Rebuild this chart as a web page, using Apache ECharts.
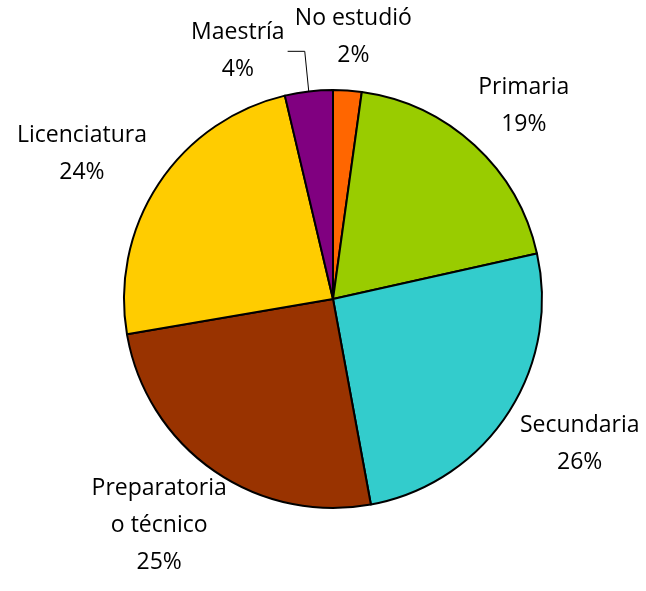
<!DOCTYPE html>
<html><head><meta charset="utf-8">
<script src="https://cdn.jsdelivr.net/npm/echarts@6/dist/echarts.min.js"></script>
<style>html,body{margin:0;padding:0;background:#fff}#c{width:646px;height:591px}</style>
</head><body><div id="c"></div>
<script>
// ---- data ----
const categories = ['No estudió', 'Primaria', 'Secundaria', 'Preparatoria\no técnico', 'Licenciatura', 'Maestría'];
const values = [2.2, 19.3, 25.6, 25.2, 24.0, 3.7];
const colors = ['#FF6600', '#99CC00', '#33CCCC', '#993300', '#FFCC00', '#800080'];

// ---- layout ----
const CX = 333, CY = 299, R = 209, GAP = 27;
const total = values.reduce((a, b) => a + b, 0);
const mids = []; let acc = 0;
values.forEach(v => { mids.push((acc + v / 2) / total * 360); acc += v; });
const placed = {};
function boxAt(deg, w, h) {
  const t = deg * Math.PI / 180, ux = Math.sin(t), uy = -Math.cos(t);
  const d = R + GAP, hv = h * 0.73;
  return { x: CX + d * ux + w / 2 * ux, y: CY + d * uy + hv / 2 * uy, w, h };
}
function overlaps(a, b, m) {
  return Math.abs(a.x - b.x) < (a.w + b.w) / 2 + m && Math.abs(a.y - b.y) < (a.h + b.h) / 2 + m;
}
function arcPoint(deg) {
  const t = deg * Math.PI / 180;
  return [CX + R * Math.sin(t), CY - R * Math.cos(t)];
}

const chart = echarts.init(document.getElementById('c'), null, { renderer: 'canvas' });
chart.setOption({
  animation: false,
  backgroundColor: '#fff',
  series: [{
    type: 'pie',
    center: [CX, CY],
    radius: R,
    startAngle: 90,
    clockwise: true,
    avoidLabelOverlap: false,
    silent: true,
    data: categories.map((n, i) => ({ name: n, value: values[i], itemStyle: { color: colors[i] } })),
    itemStyle: { borderColor: '#000', borderWidth: 2 },
    label: {
      show: true,
      position: 'outside',
      formatter: p => p.name + '\n' + Math.round(p.value / total * 100) + '%',
      fontFamily: 'Open Sans',
      fontSize: 23,
      lineHeight: 37,
      color: '#000',
      align: 'center'
    },
    labelLine: { show: true, length: 5, length2: 5, smooth: false, lineStyle: { color: '#000', width: 1 } },
    emphasis: { disabled: true },
    labelLayout: function (params) {
      const i = params.dataIndex;
      const w = params.labelRect.width, h = params.labelRect.height;
      let deg = mids[i];
      let box = boxAt(deg, w, h);
      let moved = false;
      let guard = 0;
      while (Object.keys(placed).some(k => +k !== i && overlaps(box, placed[k], 6)) && guard < 90) {
        deg -= 1; guard++; moved = true;
        box = boxAt(deg, w, h);
      }
      placed[i] = box;
      let pts;
      if (moved) {
        const a = arcPoint(mids[i]);
        const sx = box.x + w / 2 + 3;
        pts = [[sx, box.y], [a[0] - 4, box.y], [a[0], a[1]]];
      } else {
        pts = [[box.x, box.y], [box.x, box.y], [box.x, box.y]];
      }
      return { x: box.x, y: box.y, align: 'center', verticalAlign: 'middle', labelLinePoints: pts };
    }
  }]
});
</script>
</body></html>
